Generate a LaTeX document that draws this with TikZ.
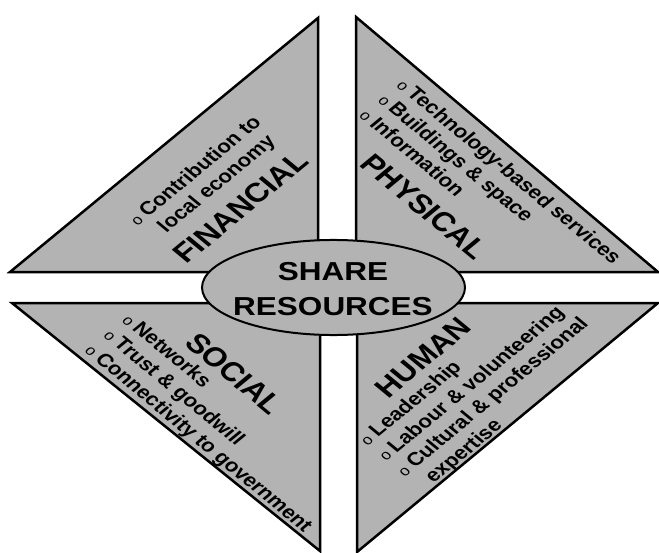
\documentclass[tikz,border=0pt]{standalone}
\usepackage{fontspec}
\setmainfont{Liberation Sans}
\usetikzlibrary{shapes.geometric}
\definecolor{tricol}{RGB}{179,179,179}
\newcommand{\bul}{{\fontsize{17}{17}\mdseries\selectfont o}}
\begin{document}
\begin{tikzpicture}[x=1pt,y=-1.21212pt,yscale=0.825,transform shape,
  tri/.style={draw=black,fill=tricol,line width=2.5pt},
  title/.style={font=\bfseries\fontsize{32.5}{32.5}\selectfont, inner sep=0},
  items/.style={font=\bfseries\fontsize{22.4}{26.3}\selectfont, inner sep=0, anchor=base west},
]
\useasboundingbox (0,0) rectangle (659,553);
% triangles
\draw[tri] (10,272) -- (318,18) -- (318,272) -- cycle;
\draw[tri] (356,17) -- (658,272) -- (356,272) -- cycle;
\draw[tri] (12,303) -- (320,303) -- (320,551) -- cycle;
\draw[tri] (357,303) -- (658,303) -- (357,552) -- cycle;
% items
\node[items, rotate=45] (finitems) at (137.5,226.5)
  {\begin{tabular}[t]{@{}l@{\hspace{5pt}}l@{}}\bul & Contribution to\\ & local economy\end{tabular}};
\node[items, rotate=-45] (phyitems) at (395.5,86)
  {\begin{tabular}[t]{@{}l@{\hspace{5pt}}l@{}}\bul & Technology-based services\\ \bul & Buildings \& space\\ \bul & Information\end{tabular}};
\node[items, rotate=-45] (socitems) at (121,321)
  {\begin{tabular}[t]{@{}l@{\hspace{5pt}}l@{}}\bul & Networks\\ \bul & Trust \& goodwill\\ \bul & Connectivity to government\end{tabular}};
\node[items, rotate=45] (humitems) at (367.5,446.5)
  {\begin{tabular}[t]{@{}l@{\hspace{5pt}}l@{}}\bul & Leadership\\ \bul & Labour \& volunteering\\ \bul & Cultural \& professional\\ & expertise\end{tabular}};
% titles
\node[title, rotate=45] (fintitle) at (240.7,207.3) {FINANCIAL};
\node[title, rotate=-45] (phytitle) at (424.3,206.5) {PHYSICAL};
\node[title, rotate=-45] (soctitle) at (234.5,373.3) {SOCIAL};
\node[title, rotate=45] (humtitle) at (423,357.5) {HUMAN};
% centre
\node[ellipse, draw=black, fill=tricol, line width=2pt, minimum width=263pt, minimum height=115.2pt, inner sep=0] (share) at (333.5,287.5) {};
\node[font=\bfseries\fontsize{31.5}{43}\selectfont, align=center, inner sep=0] (sharetext) at (333,289) {SHARE\\RESOURCES};
\end{tikzpicture}
\end{document}
